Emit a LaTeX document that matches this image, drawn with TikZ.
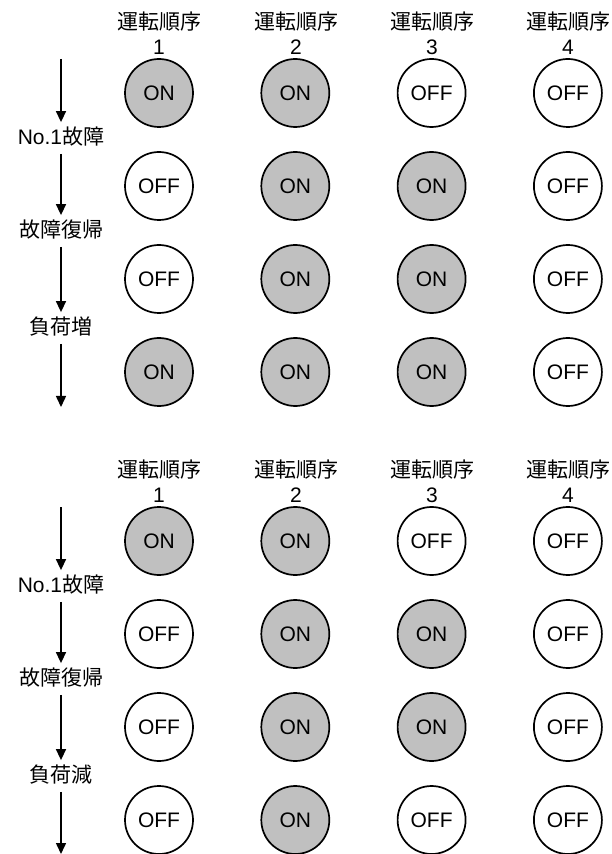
\documentclass[tikz,border=0pt]{standalone}
\usepackage{fontspec}
\setmainfont{Liberation Sans}
\newfontfamily\jp{Noto Sans CJK JP}
\usetikzlibrary{arrows.meta}
\definecolor{lampgray}{RGB}{192,192,192}

\tikzset{
    every node/.style={font=\fontsize{10.5pt}{12pt}\selectfont},
    lamp/.style={circle, draw, line width=0.85pt, minimum size=34pt, inner sep=0pt},
    lampON/.style={lamp, fill=lampgray},
    lampOFF/.style={lamp, fill=white},
    hdr/.style={anchor=base, inner sep=0pt},
    evt/.style={inner xsep=0pt, inner ysep=3pt, text height=8pt, text depth=1.5pt},
    flow/.style={line width=0.75pt, -{Triangle[length=5.5pt,width=5pt]}},
}

\begin{document}
\begin{tikzpicture}[x=0.5pt, y=-0.5pt]
    \useasboundingbox (0,0) rectangle (611,854);

    % upper block: load increase
    \foreach \c/\x in {1/159, 2/296, 3/432, 4/568} {
        \node[hdr] (inch\c) at (\x,29.6) {\jp 運転順序};
        \node[hdr] (incn\c) at (\x,54.2) {\c};
    }
    \foreach \row/\y [count=\r] in {{ON,ON,OFF,OFF}/93, {OFF,ON,ON,OFF}/186,
                                    {OFF,ON,ON,OFF}/279, {ON,ON,ON,OFF}/372} {
        \foreach \t [count=\c] in \row {
            \node[lamp\t] (inc\r\c) at ({159+136.3*(\c-1)},\y) {\t};
        }
    }
    \coordinate (inctop) at (61,59);
    \coordinate (incbot) at (61,407);
    \node[evt] (incev1) at (61,138) {No.1\jp 故障};
    \node[evt] (incev2) at (61,231) {\jp 故障復帰};
    \node[evt] (incev3) at (61,328) {\jp 負荷増};
    \draw[flow] (inctop) -- (incev1.north);
    \draw[flow] (incev1) -- (incev2);
    \draw[flow] (incev2) -- (incev3);
    \draw[flow] (incev3.south) -- (incbot);

    \begin{scope}[shift={(0,448)}]  % lower block: load decrease
        \foreach \c/\x in {1/159, 2/296, 3/432, 4/568} {
            \node[hdr] (dech\c) at (\x,29.6) {\jp 運転順序};
            \node[hdr] (decn\c) at (\x,54.2) {\c};
        }
        \foreach \row/\y [count=\r] in {{ON,ON,OFF,OFF}/93, {OFF,ON,ON,OFF}/186,
                                        {OFF,ON,ON,OFF}/279, {OFF,ON,OFF,OFF}/372} {
            \foreach \t [count=\c] in \row {
                \node[lamp\t] (dec\r\c) at ({159+136.3*(\c-1)},\y) {\t};
            }
        }
        \coordinate (dectop) at (61,59);
        \coordinate (decbot) at (61,406);
        \node[evt] (decev1) at (61,138) {No.1\jp 故障};
        \node[evt] (decev2) at (61,231) {\jp 故障復帰};
        \node[evt] (decev3) at (61,328) {\jp 負荷減};
        \draw[flow] (dectop) -- (decev1.north);
        \draw[flow] (decev1) -- (decev2);
        \draw[flow] (decev2) -- (decev3);
        \draw[flow] (decev3.south) -- (decbot);
    \end{scope}
\end{tikzpicture}
\end{document}
